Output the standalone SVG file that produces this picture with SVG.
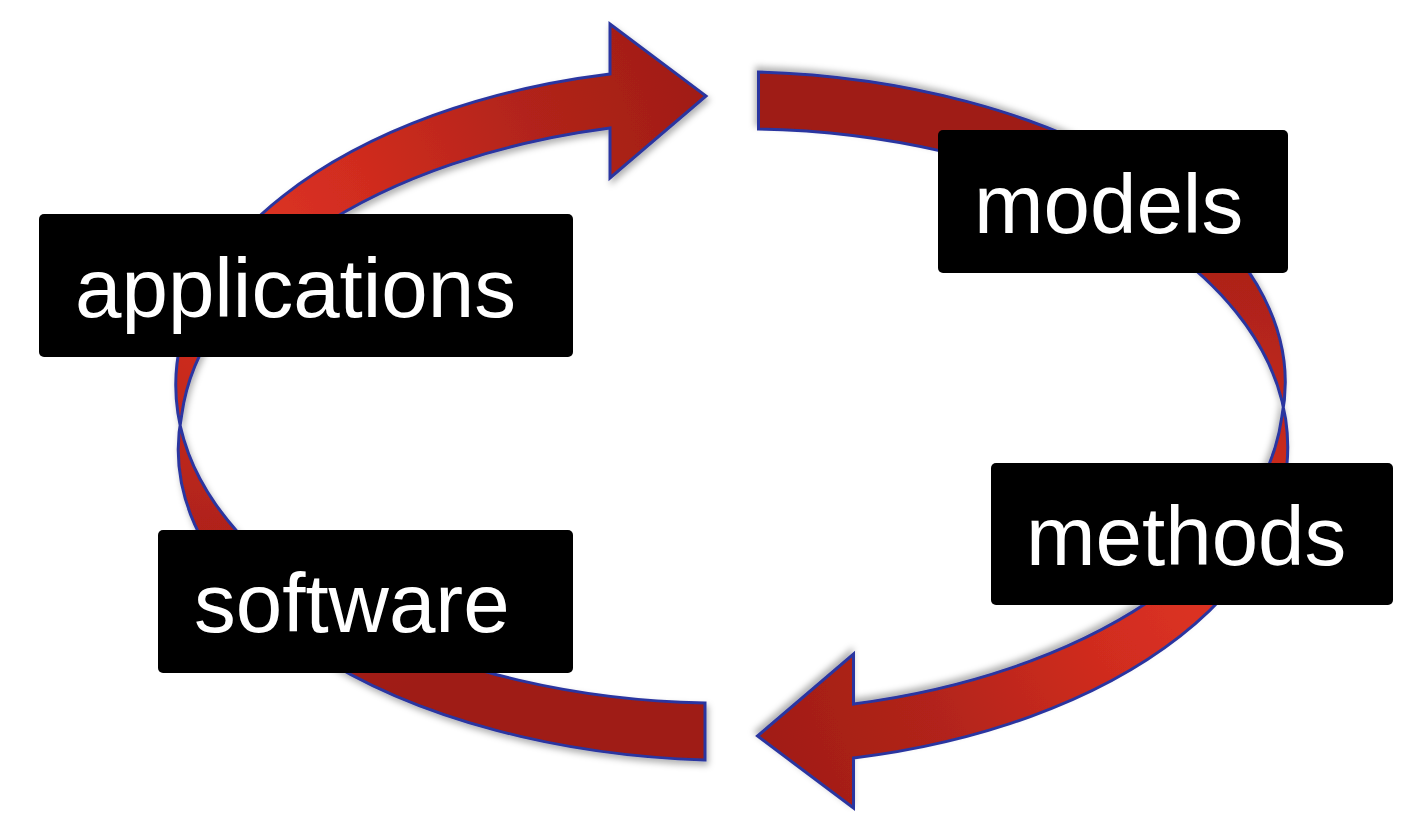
<svg xmlns="http://www.w3.org/2000/svg" width="1420" height="828" viewBox="0 0 1420 828">
  <defs>
    <radialGradient id="redGrad" gradientUnits="userSpaceOnUse" cx="260" cy="230" r="480">
      <stop offset="0" stop-color="#dc3222"/>
      <stop offset="0.25" stop-color="#d02c1f"/>
      <stop offset="0.6" stop-color="#b2241a"/>
      <stop offset="1" stop-color="#9f1c15"/>
    </radialGradient>
    <filter id="shadow" x="-10%" y="-10%" width="120%" height="120%">
      <feDropShadow dx="2" dy="4" stdDeviation="3" flood-color="#000" flood-opacity="0.3"/>
    </filter>
    <path id="loopArrow" d="M 705,703 A 547 318 0 0 1 610,74 L 610,24 L 706,96 L 610,178 L 610,128 A 550 320 0 0 0 181.7,415 A 557 311 0 0 0 705,760 Z"/>
  </defs>
  <style>
    .arrow { fill: url(#redGrad); stroke: #2b36a0; stroke-width: 3; stroke-linejoin: miter; filter: url(#shadow); }
    .box { fill: #000000; }
    .label { fill: #ffffff; font-family: "Liberation Sans", Arial, sans-serif; font-size: 83.5px; }
  </style>
  <rect width="1420" height="828" fill="#ffffff"/>
  <g id="connectors">
    <use id="arrow-left" href="#loopArrow" class="arrow"/>
    <use id="arrow-right" href="#loopArrow" class="arrow" transform="rotate(180 731.75 416)"/>
  </g>
  <g id="node-applications">
    <rect class="box" x="39" y="214" width="534" height="143" rx="5"/>
    <text class="label" x="75" y="317">applications</text>
  </g>
  <g id="node-models">
    <rect class="box" x="938" y="130" width="350" height="143" rx="5"/>
    <text class="label" x="974" y="233">models</text>
  </g>
  <g id="node-methods">
    <rect class="box" x="991" y="463" width="402" height="142" rx="5"/>
    <text class="label" x="1026" y="565">methods</text>
  </g>
  <g id="node-software">
    <rect class="box" x="158" y="530" width="415" height="143" rx="5"/>
    <text class="label" x="194" y="632">software</text>
  </g>
</svg>
